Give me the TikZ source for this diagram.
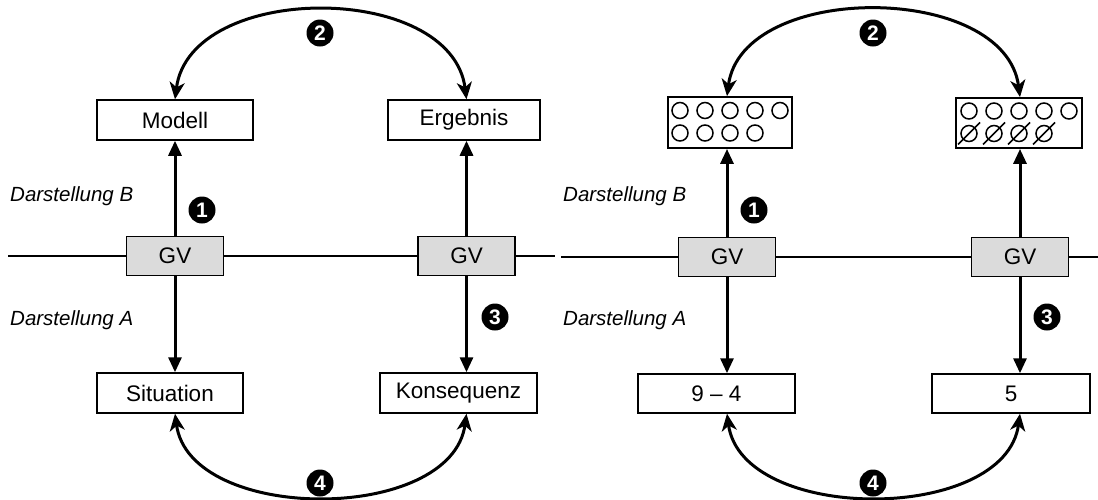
\documentclass[tikz,border=0pt]{standalone}
\usepackage{fontspec}
\setmainfont{Liberation Sans}
\usetikzlibrary{arrows.meta,calc}
\tikzset{
  box/.style={draw, line width=1.5pt, minimum height=40pt, inner sep=0pt, font=\fontsize{22.5}{26}\selectfont},
  gvbox/.style={draw, line width=1.5pt, fill=black!14, minimum width=97pt, minimum height=39pt, inner sep=0pt, font=\fontsize{22.5}{26}\selectfont},
  varrow/.style={line width=3pt, -{Triangle[length=15pt,width=13pt]}},
  arcarrow/.style={line width=3pt, {Stealth[length=17pt,width=15pt,inset=5pt]}-{Stealth[length=17pt,width=15pt,inset=5pt]}},
  num/.style={circle, fill=black, text=white, inner sep=0pt, minimum size=27pt, font=\fontsize{21}{21}\selectfont\bfseries},
  lab/.style={anchor=west, inner sep=0pt, font=\fontsize{20.5}{24}\selectfont\itshape},
  hline/.style={line width=1.1pt},
  dot/.style={line width=1.5pt}
}
\begin{document}
\begin{tikzpicture}[x=1pt,y=-1pt]
\useasboundingbox (0,0) rectangle (1098,499);
% horizontal lines
\coordinate (l1) at (8,256);
\coordinate (l2) at (555,256);
\coordinate (r1) at (561,257);
\coordinate (r2) at (1098,257);
\draw[hline] (l1) -- (l2);
\draw[hline] (r1) -- (r2);
% ---------- left panel ----------
\node[box, minimum width=156pt] (modell) at (175,120) {Modell};
\node[box, minimum width=152pt] (ergebnis) at (464,120) {Ergebnis};
\node[box, minimum width=146pt] (situation) at (170,393) {Situation};
\node[box, minimum width=157pt] (konsequenz) at (458.5,393) {Konsequenz};
\node[gvbox] (gvA) at (175,256) {GV};
\node[gvbox] (gvB) at (466.5,256) {GV};
\draw[varrow] (gvA.north) -- (gvA |- modell.south);
\draw[varrow] (gvA.south) -- (gvA |- situation.north);
\draw[varrow] (gvB.north) -- (gvB |- ergebnis.south);
\draw[varrow] (gvB.south) -- (gvB |- konsequenz.north);
\coordinate (tA) at (gvA |- modell.north);
\coordinate (tB) at (gvB |- ergebnis.north);
\coordinate (bA) at (gvA |- situation.south);
\coordinate (bB) at (gvB |- konsequenz.south);
\draw[arcarrow] (tA) .. controls ($(tA)+(15,-118)$) and ($(tB)+(-15,-118)$) .. (tB);
\draw[arcarrow] (bA) .. controls ($(bA)+(15,110)$) and ($(bB)+(-15,110)$) .. (bB);
\node[num] (n2a) at (320,33) {2};
\node[num] (n4a) at (320,483) {4};
\node[num] (n1a) at (202,210) {1};
\node[num] (n3a) at (495,317) {3};
\node[lab] (dbA) at (10,196) {Darstellung B};
\node[lab] (daA) at (10,320) {Darstellung A};
% ---------- right panel ----------
\node[draw, line width=1.8pt, minimum width=124pt, minimum height=51pt, inner sep=0pt] (setA) at (730,122.5) {};
\node[draw, line width=1.8pt, minimum width=126pt, minimum height=50pt, inner sep=0pt] (setB) at (1019,123) {};
\foreach \i in {0,...,4} {
  \draw[dot] (680+25*\i,110.5) circle (8);
  \draw[dot] (969+25*\i,111) circle (8);
}
\foreach \i in {0,...,3} {
  \draw[dot] (680+25*\i,133) circle (8);
  \draw[dot] (969+25*\i,133.5) circle (8);
  \draw[dot] (969+25*\i-11,133.5+11) -- (969+25*\i+11,133.5-11);
}
\node[box, minimum width=157pt, minimum height=39pt] (neunvier) at (716.5,393.5) {9 -- 4};
\node[box, minimum width=158pt, minimum height=39pt] (fuenf) at (1011,393.5) {5};
\node[gvbox] (gvC) at (727,257) {GV};
\node[gvbox] (gvD) at (1020,257) {GV};
\draw[varrow] (gvC.north) -- (gvC |- setA.south);
\draw[varrow] (gvC.south) -- (gvC |- neunvier.north);
\draw[varrow] (gvD.north) -- (gvD |- setB.south);
\draw[varrow] (gvD.south) -- (gvD |- fuenf.north);
\coordinate (tC) at (gvC |- setA.north);
\coordinate (tD) at (gvD |- setB.north);
\coordinate (bC) at (gvC |- neunvier.south);
\coordinate (bD) at (gvD |- fuenf.south);
\draw[arcarrow] (tC) .. controls ($(tC)+(15,-115)$) and ($(tD)+(-15,-115)$) .. (tD);
\draw[arcarrow] (bC) .. controls ($(bC)+(15,110)$) and ($(bD)+(-15,110)$) .. (bD);
\node[num] (n2b) at (873,33) {2};
\node[num] (n4b) at (873,483) {4};
\node[num] (n1b) at (754,210) {1};
\node[num] (n3b) at (1047,317) {3};
\node[lab] (dbB) at (563,196) {Darstellung B};
\node[lab] (daB) at (563,320) {Darstellung A};
\end{tikzpicture}
\end{document}
